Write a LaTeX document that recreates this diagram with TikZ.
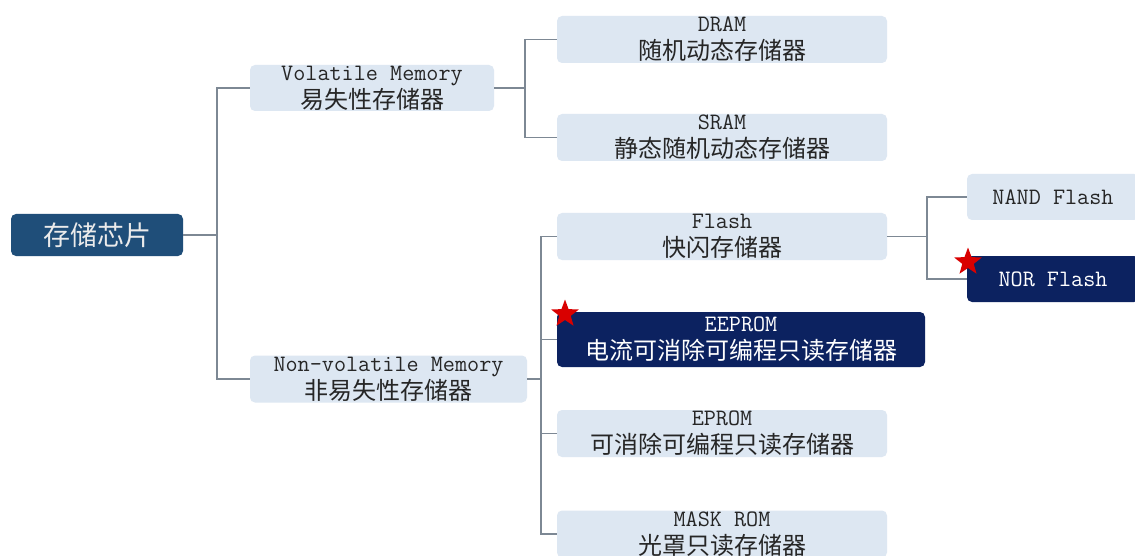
\documentclass[tikz,border=0pt]{standalone}
\usepackage{fontspec}
\newfontfamily\cjk{Noto Sans CJK SC}
\usetikzlibrary{shapes.geometric}
\definecolor{lightbox}{HTML}{DDE7F2}
\definecolor{navy}{HTML}{0C2260}
\definecolor{rootblue}{HTML}{1F4E79}
\definecolor{linec}{HTML}{7D8894}
\definecolor{txt}{HTML}{262626}
\newcommand{\twoline}[2]{{\ttfamily\fontsize{23.5}{28}\selectfont #1}\\{\cjk\fontsize{24}{28}\selectfont #2}}
\begin{document}
\begin{tikzpicture}[x=1pt,y=-1pt,
  box/.style={rounded corners=5pt, inner sep=0pt, align=center, text=txt, fill=lightbox, minimum width=330pt, minimum height=47pt, font=\fontsize{22}{28}\selectfont},
  darkbox/.style={box, fill=navy, text=white},
  rootbox/.style={rounded corners=5pt, inner sep=0pt, fill=rootblue, text=white!92!black, minimum width=172pt, minimum height=42pt},
  conn/.style={draw=linec, line width=1.6pt},
  redstar/.style={star, star points=5, star point ratio=2.4, fill=red!85!black, minimum size=29pt, inner sep=0pt}
]
\useasboundingbox (0,0) rectangle (1135,556);
\fill[white] (0,0) rectangle (1135,556);

\node[rootbox] (root) at (97,235) {\cjk\fontsize{27}{30}\selectfont 存储芯片};

\node[box, minimum width=244pt, minimum height=46pt] (vol) at (372,88) {\twoline{Volatile Memory}{易失性存储器}};
\node[box, minimum width=277pt, minimum height=47pt] (nonvol) at (388.5,379) {\twoline{Non-volatile Memory}{非易失性存储器}};

\node[box] (dram) at (722,39.5) {\twoline{DRAM}{随机动态存储器}};
\node[box] (sram) at (722,137.5) {\twoline{SRAM}{静态随机动态存储器}};
\node[box] (flash) at (722,236.5) {\twoline{Flash}{快闪存储器}};
\node[darkbox, minimum width=368pt, minimum height=55pt] (eeprom) at (741,339.5) {\twoline{EEPROM}{电流可消除可编程只读存储器}};
\node[box] (eprom) at (722,433.5) {\twoline{EPROM}{可消除可编程只读存储器}};
\node[box] (mask) at (722,534) {\twoline{MASK ROM}{光罩只读存储器}};

\node[box, minimum width=172pt, minimum height=46pt] (nand) at (1053,197) {\ttfamily\fontsize{23.5}{26}\selectfont NAND Flash};
\node[darkbox, minimum width=172pt, minimum height=46pt] (nor) at (1053,279) {\ttfamily\fontsize{23.5}{26}\selectfont NOR Flash};

\draw[conn] (root.east) -- ++(34,0) |- (vol.west);
\draw[conn] (root.east) -- ++(34,0) |- (nonvol.west);

\draw[conn] (vol.east) -- ++(31,0) |- (dram.west);
\draw[conn] (vol.east) -- ++(31,0) |- (sram.west);

\draw[conn] (nonvol.east) -- ++(14,0) |- (flash.west);
\draw[conn] (nonvol.east) -- ++(14,0) |- (eeprom.west);
\draw[conn] (nonvol.east) -- ++(14,0) |- (eprom.west);
\draw[conn] (nonvol.east) -- ++(14,0) |- (mask.west);

\draw[conn] (flash.east) -- ++(40,0) |- (nand.west);
\draw[conn] (flash.east) -- ++(40,0) |- (nor.west);

\node[redstar] (s1) at (565,314) {};
\node[redstar] (s2) at (968,262) {};
\end{tikzpicture}
\end{document}
